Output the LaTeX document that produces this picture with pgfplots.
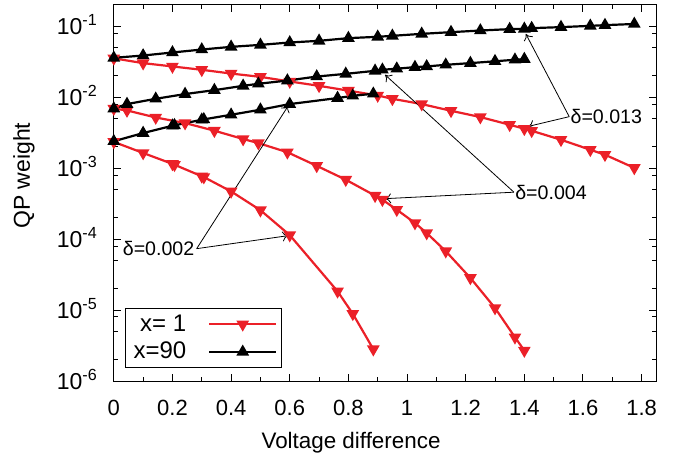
\documentclass[border=0pt]{standalone}
\usepackage{pgfplots}
\pgfplotsset{compat=1.18}
\usetikzlibrary{arrows.meta}
\usepackage{fontspec}
\setmainfont{Liberation Sans}
\definecolor{gpred}{RGB}{235,32,40}
\begin{document}
\begin{tikzpicture}
\useasboundingbox (-56.9pt,-39pt) rectangle (282.6pt,190.5pt);
\begin{axis}[
  at={(0pt,0pt)}, anchor=south west,
  scale only axis, width=271.1pt, height=188pt,
  ymode=log, xmin=0, xmax=1.849, ymin=1e-6, ymax=0.2,
  axis line style={line width=0.5pt},
  xtick={0,0.2,0.4,0.6,0.8,1.0,1.2,1.4,1.6,1.8},
  xticklabels={0,0.2,0.4,0.6,0.8,1,1.2,1.4,1.6,1.8},
  minor xtick={0.1,0.3,0.5,0.7,0.9,1.1,1.3,1.5,1.7},
  ytick={1e-6,1e-5,1e-4,1e-3,1e-2,1e-1},
  yticklabels={10\textsuperscript{-6},10\textsuperscript{-5},10\textsuperscript{-4},10\textsuperscript{-3},10\textsuperscript{-2},10\textsuperscript{-1}},
  minor ytick={2e-6,5e-6,8e-6,2e-5,5e-5,8e-5,2e-4,5e-4,8e-4,2e-3,5e-3,8e-3,2e-2,5e-2,8e-2},
  tick align=inside,
  major tick length=3.5pt, minor tick length=2pt,
  tick style={black, line width=0.5pt},
  xticklabel style={anchor=base, inner sep=0pt, yshift=-17.3pt, font=\fontsize{11}{13}\selectfont},
  yticklabel style={anchor=base east, inner sep=0pt, xshift=-7.8pt, yshift=-4pt, font=\fontsize{11.5}{13}\selectfont},
  xlabel={Voltage difference},
  ylabel={QP weight},
  xlabel style={at={(axis description cs:0.4375,-0.165)}, anchor=center, inner sep=0pt, font=\fontsize{11.2}{13}\selectfont},
  ylabel style={at={(axis description cs:-0.1656,0.546)}, rotate=0, anchor=center, inner sep=0pt, font=\fontsize{11.5}{13}\selectfont},
  clip=false,
  legend plot pos=right, legend cell align=right,
  legend style={at={(rel axis cs:0.0207,0.0338)}, anchor=south west, draw=black, line width=0.5pt,
    font=\fontsize{12}{13.5}\selectfont, inner xsep=2pt, inner ysep=1pt, row sep=0pt,
    /tikz/every odd column/.append style={column sep=9pt}},
  legend image code/.code={\draw[mark repeat=2,mark phase=2,#1] plot coordinates {(0pt,0pt) (16.7pt,0pt) (33.3pt,0pt)};},
]
% x = 1 (red)
\addplot[gpred, line width=1.1pt, mark=triangle*, mark size=2.6pt, mark options={rotate=180, solid}] coordinates {
(0,0.0354) (0.1,0.0303) (0.2,0.0272) (0.3,0.0244) (0.4,0.0216) (0.5,0.0194) (0.6,0.0167)
(0.7,0.0145) (0.8,0.0124) (0.9,0.0106) (0.95,0.00952) (1.05,0.00802) (1.15,0.00645) (1.25,0.00526)
(1.35,0.00410) (1.4,0.00360) (1.425,0.00337) (1.525,0.00252) (1.625,0.00182) (1.675,0.00155) (1.775,0.00101)};
\addlegendentry{x= 1}
\addplot[gpred, line width=1.1pt, mark=triangle*, mark size=2.6pt, mark options={rotate=180, solid}, forget plot] coordinates {
(0,0.00693) (0.045,0.00652) (0.143,0.00519) (0.243,0.00433) (0.343,0.00338) (0.441,0.00258) (0.493,0.00226)
(0.592,0.00168) (0.692,0.00108) (0.791,0.000689) (0.891,0.000410) (0.916,0.000360) (0.965,0.000260)
(1.027,0.000169) (1.067,0.000122) (1.132,6.77e-5) (1.216,2.84e-5) (1.30,1.07e-5) (1.368,4.14e-6) (1.40,2.69e-6)};
\addplot[gpred, line width=1.1pt, mark=triangle*, mark size=2.6pt, mark options={rotate=180, solid}, forget plot] coordinates {
(0,0.00235) (0.1,0.00164) (0.2,0.00115) (0.207,0.00112) (0.3,0.00077) (0.307,0.00075) (0.4,0.000471)
(0.5,0.000256) (0.6,0.000114) (0.763,1.84e-5) (0.815,8.87e-6) (0.885,2.81e-6)};
% x = 90 (black)
\addplot[black, line width=1.1pt, mark=triangle*, mark size=2.6pt, mark options={solid}] coordinates {
(0,0.0360) (0.1,0.0388) (0.2,0.0428) (0.3,0.0471) (0.4,0.0514) (0.5,0.0548) (0.6,0.0592)
(0.7,0.0625) (0.8,0.0682) (0.9,0.0712) (0.95,0.0735) (1.05,0.0784) (1.15,0.0828) (1.25,0.0873)
(1.35,0.0914) (1.4,0.0922) (1.425,0.0943) (1.525,0.0975) (1.625,0.1016) (1.675,0.104) (1.775,0.108)};
\addlegendentry{x=90}
\addplot[black, line width=1.1pt, mark=triangle*, mark size=2.6pt, mark options={solid}, forget plot] coordinates {
(0,0.00693) (0.045,0.00802) (0.143,0.00952) (0.243,0.0111) (0.343,0.0126) (0.441,0.0145) (0.493,0.0155)
(0.592,0.0172) (0.692,0.0196) (0.791,0.0214) (0.891,0.0236) (0.916,0.0244) (0.965,0.0253)
(1.027,0.0266) (1.067,0.0272) (1.132,0.0287) (1.216,0.0303) (1.30,0.0322) (1.368,0.0338) (1.40,0.0345)};
\addplot[black, line width=1.1pt, mark=triangle*, mark size=2.6pt, mark options={solid}, forget plot] coordinates {
(0,0.00240) (0.1,0.00313) (0.2,0.00397) (0.207,0.00402) (0.3,0.00482) (0.307,0.00488) (0.4,0.00567)
(0.5,0.00668) (0.6,0.00802) (0.763,0.00975) (0.815,0.0105) (0.885,0.0112)};
% annotations
\draw[-{To[length=3pt,width=5pt]}, line width=0.4pt] (axis cs:1.553,0.00533) -- (axis cs:1.405,0.0784);
\draw[-{To[length=3pt,width=5pt]}, line width=0.4pt] (axis cs:1.553,0.00533) -- (axis cs:1.413,0.00388);
\node[anchor=west, inner sep=0.5pt, font=\fontsize{9.8}{11}\selectfont] at (axis cs:1.553,0.00533) {δ=0.013};
\draw[-{To[length=3pt,width=5pt]}, line width=0.4pt] (axis cs:1.3645,0.000459) -- (axis cs:0.925,0.02075);
\draw[-{To[length=3pt,width=5pt]}, line width=0.4pt] (axis cs:1.3645,0.000459) -- (axis cs:0.925,0.000372);
\node[anchor=west, inner sep=0.5pt, font=\fontsize{9.8}{11}\selectfont] at (axis cs:1.3645,0.000459) {δ=0.004};
\draw[-{To[length=3pt,width=5pt]}, line width=0.4pt] (axis cs:0.2826,7.34e-5) -- (axis cs:0.595,0.000112);
\draw[-{To[length=3pt,width=5pt]}, line width=0.4pt] (axis cs:0.2826,7.34e-5) -- (axis cs:0.595,0.00759);
\node[anchor=east, inner sep=1pt, font=\fontsize{9.8}{11}\selectfont] at (axis cs:0.2826,7.34e-5) {δ=0.002};
\end{axis}
\end{tikzpicture}
\end{document}
